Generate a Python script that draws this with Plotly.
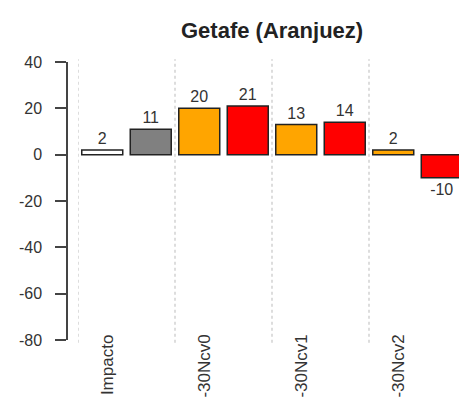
import plotly.graph_objects as go

groups = ["Impacto", "-30Ncv0", "-30Ncv1", "-30Ncv2"]
first_vals = [2, 20, 13, 2]
second_vals = [11, 21, 14, -10]
first_colors = ["#FFFFFF", "#FFA500", "#FFA500", "#FFA500"]
second_colors = ["#808080", "#FF0000", "#FF0000", "#FF0000"]
y_ticks = [40, 20, 0, -20, -40, -60, -80]

W, H = 467, 402
ml, mr, mt, mb = 59, 9, 54, 70
plot_w = W - ml - mr
axis_gap = 11
FONT = "Liberation Sans, Arial"

xs = list(range(len(groups)))
fig = go.Figure()
for vals, cols in [(first_vals, first_colors), (second_vals, second_colors)]:
    fig.add_trace(go.Bar(
        x=xs, y=vals,
        marker=dict(color=cols, line=dict(color="#222222", width=1.5)),
        text=[str(v) for v in vals], textposition="outside",
        textfont=dict(family=FONT, size=16, color="#333333"),
        cliponaxis=False, showlegend=False,
    ))

shapes = []
for k in range(len(groups) + 1):
    shapes.append(dict(type="line", xref="x", yref="paper", x0=k - 0.5, x1=k - 0.5,
                       y0=-0.01, y1=1.01, line=dict(color="#BBBBBB", width=1, dash="dot")))

annotations = [dict(text="<b>Getafe (Aranjuez)</b>", xref="paper", yref="paper",
                    x=(264 - ml) / plot_w, y=1, yshift=32, showarrow=False,
                    font=dict(family=FONT, size=22, color="#222222"),
                    xanchor="center", yanchor="middle")]
for i, g in enumerate(groups):
    annotations.append(dict(text=g, x=i - 0.2, xref="x", y=0, yref="paper",
                            yshift=7, textangle=-90, showarrow=False,
                            xanchor="center", yanchor="top",
                            font=dict(family=FONT, size=17, color="#333333")))

fig.update_layout(
    width=W, height=H, margin=dict(l=ml, r=mr, t=mt, b=mb),
    paper_bgcolor="white", plot_bgcolor="white",
    barmode="group", bargap=0.0, bargroupgap=0.155,
    xaxis=dict(domain=[axis_gap / plot_w, 1], range=[-0.5, 3.5], showgrid=False,
               zeroline=False, showticklabels=False, ticks=""),
    yaxis=dict(range=[-80, 40], tickvals=y_ticks, ticktext=[str(v) for v in y_ticks],
               anchor="free", position=0, showline=True, linecolor="#444444", linewidth=1.5,
               ticks="outside", ticklen=11, tickwidth=1.5, tickcolor="#444444",
               ticklabelstandoff=10,
               showgrid=False, zeroline=False,
               tickfont=dict(family=FONT, size=16, color="#333333")),
    shapes=shapes, annotations=annotations,
)
fig.write_html("out.html")
